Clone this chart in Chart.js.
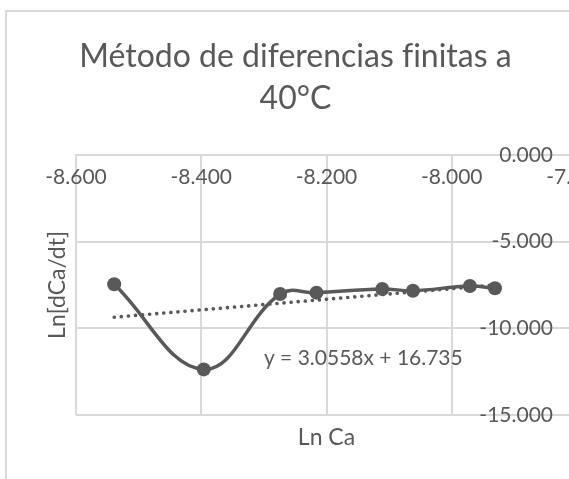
<!DOCTYPE html>
<html>
<head>
<meta charset="utf-8">
<script src="https://cdn.jsdelivr.net/npm/chart.js@4"></script>
<style>
  html, body { margin: 0; padding: 0; background: #fff; overflow: hidden; }
  #wrap { position: relative; width: 591px; height: 479px; }
</style>
</head>
<body>
<div id="wrap"><canvas id="chart" width="591" height="479"></canvas></div>
<script>
document.addEventListener("DOMContentLoaded", () => {

  // ===== DATA =====
  const lnCa = [-8.539, -8.396, -8.274, -8.216, -8.111, -8.062, -7.971, -7.931];
  const lnRate = [-7.46, -12.37, -8.02, -7.94, -7.73, -7.83, -7.56, -7.69];
  const xTicks = [-8.6, -8.4, -8.2, -8.0, -7.8];
  const yTicks = [0, -5, -10, -15];
  const trendSlope = [3.0558];
  const trendIntercept = [16.735];
  // zero-width non-joiner keeps "f" and "i" apart (no fi ligature, like the original)
  const titleLines = ["Método de diferencias f\u200Cinitas a", "40°C"];

  const grey = "#595959";
  const gridGrey = "#d9d9d9";
  const fontFam = "Lato, 'Open Sans', sans-serif";

  const points = lnCa.map((x, i) => ({ x: x, y: lnRate[i] }));
  const xFirst = lnCa[0];
  const xLast = lnCa[lnCa.length - 1];
  const trend = [
    { x: xFirst, y: trendSlope[0] * xFirst + trendIntercept[0] },
    { x: xLast, y: trendSlope[0] * xLast + trendIntercept[0] }
  ];
  const eqText = "y = " + trendSlope[0] + "x + " + trendIntercept[0];

  // outer chart border (excel chart box)
  const chartBox = {
    id: "chartBox",
    beforeDraw(chart) {
      const ctx = chart.ctx;
      ctx.save();
      ctx.strokeStyle = gridGrey;
      ctx.lineWidth = 2;
      ctx.strokeRect(6, 11, chart.width + 20, chart.height + 20);
      ctx.restore();
    }
  };

  // trendline equation label
  const eqLabel = {
    id: "eqLabel",
    afterDatasetsDraw(chart) {
      const ctx = chart.ctx;
      const xs = chart.scales.x;
      const ys = chart.scales.y;
      ctx.save();
      ctx.fillStyle = grey;
      ctx.font = "21px " + fontFam;
      ctx.textAlign = "left";
      ctx.textBaseline = "middle";
      ctx.fillText(eqText, xs.getPixelForValue(-8.3), ys.getPixelForValue(-11.7));
      ctx.restore();
    }
  };

  new Chart(document.getElementById("chart"), {
    type: "scatter",
    data: {
      datasets: [
        {
          label: "Ln dCa/dt",
          data: points,
          showLine: true,
          tension: 0.4,
          borderColor: grey,
          backgroundColor: grey,
          borderWidth: 3.5,
          pointRadius: 7,
          pointHoverRadius: 7,
          pointBackgroundColor: grey,
          pointBorderWidth: 0
        },
        {
          label: "Lineal",
          data: trend,
          showLine: true,
          borderColor: grey,
          borderWidth: 3.6,
          borderDash: [0.1, 7],
          borderCapStyle: "round",
          pointRadius: 0,
          fill: false
        }
      ]
    },
    options: {
      responsive: false,
      animation: false,
      events: [],
      layout: { padding: 0 },
      plugins: {
        legend: { display: false },
        tooltip: { enabled: false },
        title: {
          display: true,
          text: titleLines,
          color: grey,
          font: { family: fontFam, size: 32, weight: "normal", lineHeight: 1.3125 },
          padding: { top: 36, bottom: 0 }
        }
      },
      scales: {
        x: {
          type: "linear",
          position: "top",
          min: -8.6,
          max: -7.8,
          afterFit(scale) {
            scale.height = 35;
            scale.paddingLeft = 0;
            scale.paddingRight = 0;
          },
          afterBuildTicks(scale) { scale.ticks = xTicks.map(v => ({ value: v })); },
          grid: { color: gridGrey, lineWidth: 2, drawTicks: false },
          border: { color: gridGrey, width: 2 },
          ticks: {
            mirror: true,
            padding: 10,
            color: grey,
            font: { family: fontFam, size: 21 },
            callback: v => v.toFixed(3)
          }
        },
        y: {
          type: "linear",
          position: "right",
          min: -15,
          max: 0,
          afterFit(scale) {
            scale.width = 14;
            scale.paddingTop = 0;
            scale.paddingBottom = 0;
          },
          afterBuildTicks(scale) { scale.ticks = yTicks.map(v => ({ value: v })); },
          grid: { color: gridGrey, lineWidth: 2, drawTicks: false },
          border: { color: gridGrey, width: 2 },
          ticks: {
            mirror: true,
            padding: -24,
            color: grey,
            font: { family: fontFam, size: 21 },
            callback: v => v.toFixed(3)
          }
        },
        xTitle: {
          type: "linear",
          position: "bottom",
          afterFit(scale) { scale.height = 64; },
          grid: { display: false },
          border: { display: false },
          ticks: { display: false },
          title: {
            display: true,
            text: "Ln Ca",
            color: grey,
            font: { family: fontFam, size: 23 },
            padding: { top: 0, bottom: 28 }
          }
        },
        yTitle: {
          type: "linear",
          position: "left",
          afterFit(scale) { scale.width = 76; },
          grid: { display: false },
          border: { display: false },
          ticks: { display: false },
          title: {
            display: true,
            text: "Ln[dCa/dt]",
            color: grey,
            font: { family: fontFam, size: 23 },
            padding: { top: 44, bottom: 0 }
          }
        }
      }
    },
    plugins: [chartBox, eqLabel]
  });
});
</script>
</body>
</html>
